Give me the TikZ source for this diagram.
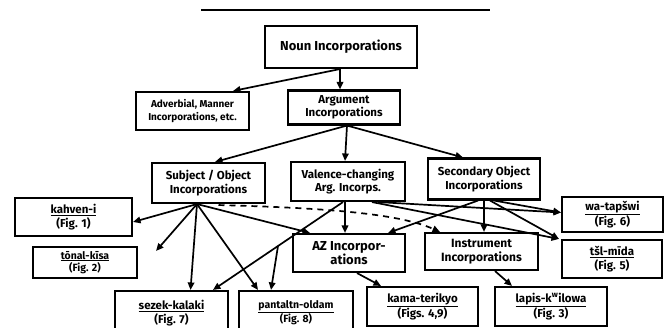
\documentclass[tikz,border=0pt]{standalone}
\usepackage{fontspec}
\setmainfont{Fira Sans}
\usetikzlibrary{arrows.meta,calc}
\begin{document}
\begin{tikzpicture}[x=1pt,y=-1pt,
  box/.style={draw, line width=2.1pt, inner sep=0pt, align=center,
    font=\bfseries\fontsize{11.5}{13.5}\selectfont},
  ex/.style={box, font=\bfseries\fontsize{11.5}{14}\selectfont},
  arr/.style={line width=1.7pt, -{Triangle[length=7.5pt,width=6.5pt]}},
  darr/.style={arr, dash pattern=on 6pt off 5pt},
]
\path[use as bounding box] (0,0) rectangle (664,328);
\coordinate (rl) at (201,10); \coordinate (rr) at (490,10);
\draw[line width=2pt] (rl) -- (rr);

\node[box, minimum width=152pt, minimum height=42pt, font=\bfseries\fontsize{13}{15}\selectfont] (noun) at (341,47) {Noun Incorporations};
\node[box, minimum width=113pt, minimum height=38pt, font=\bfseries\fontsize{10}{12.5}\selectfont] (adv) at (192.5,111) {Adverbial, Manner\\Incorporations, etc.};
\node[box, minimum width=112pt, minimum height=34pt] (arg) at (344,107.5) {Argument\\Incorporations};

\node[box, minimum width=113pt, minimum height=40pt] (subj) at (208.5,183) {Subject / Object\\Incorporations};
\node[box, minimum width=114pt, minimum height=39pt] (val) at (348,181.5) {Valence-changing\\Arg. Incorps.};
\node[box, minimum width=112pt, minimum height=41pt] (sec) at (484,179) {Secondary Object\\Incorporations};

\node[ex, minimum width=117pt, minimum height=38pt] (kah) at (73.5,217) {\underline{kahven-i}\\(Fig. 1)};
\node[ex, minimum width=104pt, minimum height=31pt, font=\bfseries\fontsize{10.5}{12.5}\selectfont] (ton) at (85,262.5) {\underline{tōnal-kīsa}\\(Fig. 2)};
\node[box, minimum width=112pt, minimum height=38pt, font=\bfseries\fontsize{13}{14.5}\selectfont] (az) at (349,253) {AZ Incorpor-\\ations};
\node[box, minimum width=113pt, minimum height=37pt, font=\bfseries\fontsize{12}{14}\selectfont] (ins) at (481.5,251.5) {Instrument\\Incorporations};
\node[ex, minimum width=101pt, minimum height=35pt] (wa) at (612.5,214.5) {\underline{wa-tapšwi}\\(Fig. 6)};
\node[ex, minimum width=100pt, minimum height=38pt] (tsl) at (612,259) {\underline{tšl-mīda}\\(Fig. 5)};

\node[ex, minimum width=113pt, minimum height=44pt] (sez) at (171.5,313) {\underline{sezek-kalaki}\\(Fig. 7)};
\node[ex, minimum width=114pt, minimum height=44pt, font=\bfseries\fontsize{10.5}{14}\selectfont] (pan) at (296,313) {\underline{pantaltn-oldam}\\(Fig. 8)};
\node[ex, minimum width=111pt, minimum height=39pt] (kam) at (422.5,306.5) {\underline{kama-terikyo}\\(Figs. 4,9)};
\node[ex, minimum width=112pt, minimum height=39pt] (lap) at (551,306.5) {\underline{lapis-k\textsuperscript{w}ilowa}\\(Fig. 3)};

% level 1
\draw[arr] ($(noun.south)+(-1,0)$) -- ($(adv.north)+(40.5,0)$);
\draw[arr] ($(noun.south)+(-1,0)$) -- ($(arg.north)+(-4,0)$);
% level 2
\draw[arr] ($(arg.south)+(3,0)$) -- ($(subj.north)+(6.5,0)$);
\draw[arr] ($(arg.south)+(3,0)$) -- ($(val.north)+(-3,0)$);
\draw[arr] ($(arg.south)+(3,0)$) -- ($(sec.north)+(-21,0)$);
% subject
\coordinate (ss) at ($(subj.south)+(-11.5,0)$);
\draw[arr] (ss) -- ($(kah.east)+(0,5)$);
\draw[arr] (ss) -- ($(ton.north east)+(18,5)$);
\draw[arr] (ss) -- ($(sez.north)+(19,0)$);
\draw[arr] (ss) -- ($(pan.north)+(-38,0)$);
\draw[arr] (ss) -- ($(az.north)+(-39,0)$);
\draw[darr] ($(subj.south)+(10,1)$) .. controls (330,208) and (400,214) .. ($(ins.north)+(-41.5,0)$);
% valence
\coordinate (vs) at ($(val.south)+(-5,0)$);
\coordinate (vt) at ($(sez.north)+(41.5,0)$);
\draw[arr] (vs) -- (vt);
\draw[arr] ($(vs)!0.5!(vt)$) -- ($(pan.north)+(-25,0)$);
\draw[arr] ($(val.south)+(-3,0)$) -- ($(az.north)+(-4,0)$);
\draw[arr] ($(val.south)+(30,0)$) -- ($(wa.west)+(0,-2)$);
\draw[arr] ($(val.south)+(24,0)$) -- ($(tsl.north west)+(-2,0)$);
% secondary
\draw[arr] ($(sec.south)+(-6,0)$) -- ($(az.north)+(39,0)$);
\draw[arr] (sec.south) -- ($(ins.north)+(2.5,0)$);
\draw[arr] ($(sec.south)+(10,0)$) -- ($(wa.west)+(0,-2)$);
\draw[arr] ($(sec.south)+(6,0)$) -- ($(tsl.north west)+(-2,0)$);
% lower
\draw[arr] ($(az.south)+(8,0)$) -- ($(kam.north)+(-41.5,0)$);
\draw[arr] ($(ins.south)+(13.5,0)$) -- ($(lap.north)+(-39,0)$);
\end{tikzpicture}
\end{document}
